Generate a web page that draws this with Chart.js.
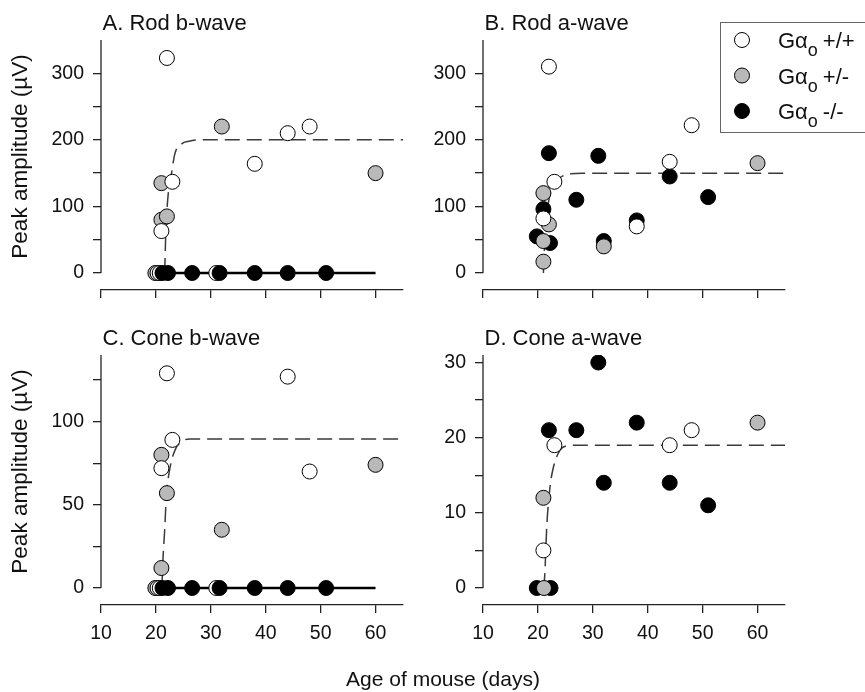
<!DOCTYPE html>
<html>
<head>
<meta charset="utf-8">
<script src="https://cdn.jsdelivr.net/npm/chart.js@4.4.1/dist/chart.umd.min.js"></script>
<style>
  body { margin: 0; background: #fff; width: 865px; height: 692px; position: relative; overflow: hidden; font-family: "Liberation Sans", Arial, sans-serif; }
  canvas { position: absolute; }
  #xtitle { position: absolute; left: 443px; top: 668px; transform: translateX(-50%); font-size: 21px; line-height: 21px; white-space: nowrap; color: #111; }
</style>
</head>
<body>
<canvas id="panelA" width="430" height="320" style="left:0;top:0"></canvas>
<canvas id="panelB" width="435" height="320" style="left:430px;top:0"></canvas>
<canvas id="panelC" width="430" height="372" style="left:0;top:320px"></canvas>
<canvas id="panelD" width="435" height="372" style="left:430px;top:320px"></canvas>
<div id="xtitle">Age of mouse (days)</div>
<script>
// shared axis ticks
const ageTicks = [10, 20, 30, 40, 50, 60];

// A. Rod b-wave
const rodB_wtAge  = [22, 23, 21, 38, 44, 48, 20.3, 20.7, 31];
const rodB_wtAmp  = [323, 137, 63, 164, 210, 220, 0, 0, 0];
const rodB_hetAge = [32, 21, 21, 22, 60, 19.9];
const rodB_hetAmp = [220, 135, 80, 85, 150, 0];
const rodB_koAge  = [21.2, 22.2, 26.6, 31.6, 38, 44, 51];
const rodB_koAmp  = [0, 0, 0, 0, 0, 0, 0];
const rodB_fitAge = [21.6, 21.8, 22.2, 22.85, 23.45, 24.7, 26, 28, 65];
const rodB_fitAmp = [0, 60, 115, 150, 179, 194, 198, 200, 200];
const rodB_koFitAge = [20, 60];
const rodB_koFitAmp = [0, 0];
const rodB_yTicks = [0, 50, 100, 150, 200, 250, 300];
const rodB_yLabels = [0, 100, 200, 300];

// B. Rod a-wave
const rodA_wtAge  = [22, 48, 44, 23, 21, 38];
const rodA_wtAmp  = [310, 222, 167, 137, 82, 70];
const rodA_hetAge = [21, 22, 21, 21, 32, 60];
const rodA_hetAmp = [120, 73, 48, 17, 40, 165];
const rodA_koAge  = [22, 31, 27, 21, 19.8, 22.2, 32, 38, 44, 51];
const rodA_koAmp  = [180, 176, 110, 96, 55, 45, 48, 79, 145, 114];
const rodA_fitAge = [21, 21.2, 21.5, 22, 22.7, 23.5, 24.6, 26, 28, 65];
const rodA_fitAmp = [0, 40, 80, 110, 130, 140, 146, 149, 150, 150];
const rodA_yTicks = [0, 50, 100, 150, 200, 250, 300];
const rodA_yLabels = [0, 100, 200, 300];

// C. Cone b-wave
const coneB_wtAge  = [22, 44, 23, 21, 48, 20.3, 20.7, 31];
const coneB_wtAmp  = [129, 127, 89, 72, 70, 0, 0, 0];
const coneB_hetAge = [21, 22, 21, 32, 60, 19.9];
const coneB_hetAmp = [80, 57, 12, 35, 74, 0];
const coneB_koAge  = [21.2, 22.2, 26.6, 31.6, 38, 44, 51];
const coneB_koAmp  = [0, 0, 0, 0, 0, 0, 0];
const coneB_fitAge = [21.1, 21.2, 21.6, 21.9, 22.5, 23.5, 25, 26.2, 65];
const coneB_fitAmp = [0, 11, 35, 55, 71, 83, 88.6, 89.5, 89.5];
const coneB_koFitAge = [20, 60];
const coneB_koFitAmp = [0, 0];
const coneB_yTicks = [0, 25, 50, 75, 100, 125];
const coneB_yLabels = [0, 50, 100];

// D. Cone a-wave
const coneA_wtAge  = [23, 44, 48, 21];
const coneA_wtAmp  = [19, 19, 21, 5];
const coneA_hetAge = [21, 21.1, 60];
const coneA_hetAmp = [12, 0, 22];
const coneA_koAge  = [31, 22, 27, 38, 32, 44, 51, 19.8, 22.3];
const coneA_koAmp  = [30, 21, 21, 22, 14, 14, 11, 0, 0];
const coneA_fitAge = [21.1, 21.3, 21.6, 22.2, 22.8, 24, 25.2, 27, 65];
const coneA_fitAmp = [0, 2.5, 8, 13.4, 16, 18.3, 18.9, 19, 19];
const coneA_yTicks = [0, 5, 10, 15, 20, 25, 30];
const coneA_yLabels = [0, 10, 20, 30];

const FONT = '"Liberation Sans", Arial, sans-serif';
const INK = '#111';
const AXIS = '#222';
const fills = { wt: '#ffffff', het: '#b9b9b9', ko: '#000000' };

const toXY = (xs, ys) => xs.map((x, i) => ({ x: x, y: ys[i] }));

// draws panel title, y-axis line (0..max), y title and optional legend
const framePlugin = {
  id: 'frame',
  beforeDatasetsDraw(chart, args, opts) {
    const { ctx, chartArea, scales } = chart;
    const y0 = scales.y.getPixelForValue(0);
    ctx.save();
    ctx.strokeStyle = AXIS;
    ctx.lineWidth = 1.3;
    ctx.beginPath();
    ctx.moveTo(chartArea.left, y0);
    ctx.lineTo(chartArea.left, chartArea.top);
    ctx.stroke();
    ctx.restore();
  },
  afterDraw(chart, args, opts) {
    const { ctx, chartArea, scales } = chart;
    ctx.save();
    ctx.fillStyle = INK;
    ctx.font = '22px ' + FONT;
    ctx.textAlign = 'left';
    ctx.textBaseline = 'alphabetic';
    ctx.fillText(opts.title, chartArea.left + 1.5, chartArea.top - 10);

    if (opts.yTitle) {
      const yMid = (scales.y.getPixelForValue(0) + chartArea.top) / 2;
      ctx.save();
      ctx.font = '22.5px ' + FONT;
      ctx.translate(21, yMid);
      ctx.rotate(-Math.PI / 2);
      ctx.textAlign = 'center';
      ctx.textBaseline = 'middle';
      ctx.fillText(opts.yTitle, 0, 0);
      ctx.restore();
    }

    if (opts.legend) {
      const bx = chartArea.right - 65, by = 22;
      ctx.strokeStyle = '#666';
      ctx.lineWidth = 1;
      ctx.strokeRect(bx + 0.5, by + 0.5, 200, 110);
      opts.legend.forEach((item, i) => {
        const cy = by + 18 + i * 35.5;
        ctx.beginPath();
        ctx.arc(bx + 22, cy, 7.5, 0, Math.PI * 2);
        ctx.fillStyle = item.fill;
        ctx.fill();
        ctx.strokeStyle = '#000';
        ctx.stroke();
        let tx = bx + 58;
        const base = cy + 8;
        ctx.fillStyle = INK;
        ctx.font = '22px ' + FONT;
        ctx.fillText('G\u03b1', tx, base);
        tx += ctx.measureText('G\u03b1').width;
        ctx.font = '18px ' + FONT;
        ctx.fillText('o', tx, base + 8);
        tx += ctx.measureText('o').width + 5;
        ctx.font = '22px ' + FONT;
        ctx.fillText(item.label, tx, base);
      });
    }
    ctx.restore();
  }
};

function pointSet(label, xs, ys, fill, order) {
  return {
    label: label, data: toXY(xs, ys), order: order,
    pointRadius: 7.5, pointHoverRadius: 7.5,
    pointBackgroundColor: fill, pointBorderColor: '#000', pointBorderWidth: 1,
    showLine: false
  };
}

function lineSet(xs, ys, dashed) {
  return {
    data: toXY(xs, ys), order: 10, showLine: true, pointRadius: 0,
    borderColor: dashed ? '#3a3a3a' : '#000',
    borderWidth: dashed ? 1.5 : 2.6,
    borderDash: dashed ? [15, 7] : [],
    cubicInterpolationMode: 'monotone', fill: false
  };
}

function makePanel(id, p) {
  const gap = 17;            // pixels between y=0 and the x axis line
  const span = p.plotH - gap; // pixels from y=0 to max
  const yMin = -p.yMax * gap / span;
  return new Chart(document.getElementById(id), {
    type: 'scatter',
    data: { datasets: p.datasets },
    options: {
      responsive: false,
      animation: false,
      events: [],
      layout: { padding: { top: p.padTop, right: p.padRight, bottom: p.padBottom, left: 0 } },
      plugins: {
        legend: { display: false },
        tooltip: { enabled: false },
        frame: { title: p.title, yTitle: p.yTitle, legend: p.legend }
      },
      scales: {
        x: {
          type: 'linear', min: 10, max: 65,
          afterBuildTicks: s => { s.ticks = ageTicks.map(v => ({ value: v })); },
          afterFit: s => { s.height = p.xHeight; },
          grid: { drawOnChartArea: false, drawTicks: true, tickLength: 8, color: AXIS, lineWidth: 1.3 },
          border: { display: true, color: AXIS, width: 1.3 },
          ticks: { display: p.xLabels, color: INK, padding: 9, maxRotation: 0, font: { family: FONT, size: 19.5 } }
        },
        y: {
          type: 'linear', min: yMin, max: p.yMax,
          afterBuildTicks: s => { s.ticks = p.yTicks.map(v => ({ value: v })); },
          afterFit: s => { s.width = p.yWidth; },
          grid: { drawOnChartArea: false, drawTicks: true, tickLength: 8, color: AXIS, lineWidth: 1.3 },
          border: { display: false },
          ticks: {
            color: INK, padding: 9, font: { family: FONT, size: 19.5 },
            callback: v => p.yLabels.includes(v) ? String(v) : ''
          }
        }
      }
    },
    plugins: [framePlugin]
  });
}

const legendItems = [
  { label: '+/+', fill: fills.wt },
  { label: '+/-', fill: fills.het },
  { label: '-/-', fill: fills.ko }
];

makePanel('panelA', {
  title: 'A. Rod b-wave', yTitle: 'Peak amplitude (\u00b5V)',
  yMax: 350, yTicks: rodB_yTicks, yLabels: rodB_yLabels,
  plotH: 250, padTop: 40, padRight: 27, padBottom: 0, xHeight: 30, yWidth: 101, xLabels: false,
  datasets: [
    pointSet('-/-', rodB_koAge, rodB_koAmp, fills.ko, 1),
    pointSet('+/+', rodB_wtAge, rodB_wtAmp, fills.wt, 2),
    pointSet('+/-', rodB_hetAge, rodB_hetAmp, fills.het, 3),
    lineSet(rodB_fitAge, rodB_fitAmp, true),
    lineSet(rodB_koFitAge, rodB_koFitAmp, false)
  ]
});

makePanel('panelB', {
  title: 'B. Rod a-wave', legend: legendItems,
  yMax: 350, yTicks: rodA_yTicks, yLabels: rodA_yLabels,
  plotH: 250, padTop: 40, padRight: 80, padBottom: 0, xHeight: 30, yWidth: 53, xLabels: false,
  datasets: [
    pointSet('+/+', rodA_wtAge, rodA_wtAmp, fills.wt, 1),
    pointSet('+/-', rodA_hetAge, rodA_hetAmp, fills.het, 2),
    pointSet('-/-', rodA_koAge, rodA_koAmp, fills.ko, 3),
    lineSet(rodA_fitAge, rodA_fitAmp, true)
  ]
});

makePanel('panelC', {
  title: 'C. Cone b-wave', yTitle: 'Peak amplitude (\u00b5V)',
  yMax: 140, yTicks: coneB_yTicks, yLabels: coneB_yLabels,
  plotH: 250, padTop: 35, padRight: 27, padBottom: 37, xHeight: 50, yWidth: 101, xLabels: true,
  datasets: [
    pointSet('-/-', coneB_koAge, coneB_koAmp, fills.ko, 1),
    pointSet('+/+', coneB_wtAge, coneB_wtAmp, fills.wt, 2),
    pointSet('+/-', coneB_hetAge, coneB_hetAmp, fills.het, 3),
    lineSet(coneB_fitAge, coneB_fitAmp, true),
    lineSet(coneB_koFitAge, coneB_koFitAmp, false)
  ]
});

makePanel('panelD', {
  title: 'D. Cone a-wave',
  yMax: 31, yTicks: coneA_yTicks, yLabels: coneA_yLabels,
  plotH: 250, padTop: 35, padRight: 80, padBottom: 37, xHeight: 50, yWidth: 53, xLabels: true,
  datasets: [
    pointSet('+/+', coneA_wtAge, coneA_wtAmp, fills.wt, 1),
    pointSet('+/-', coneA_hetAge, coneA_hetAmp, fills.het, 2),
    pointSet('-/-', coneA_koAge, coneA_koAmp, fills.ko, 3),
    lineSet(coneA_fitAge, coneA_fitAmp, true)
  ]
});
</script>
</body>
</html>
